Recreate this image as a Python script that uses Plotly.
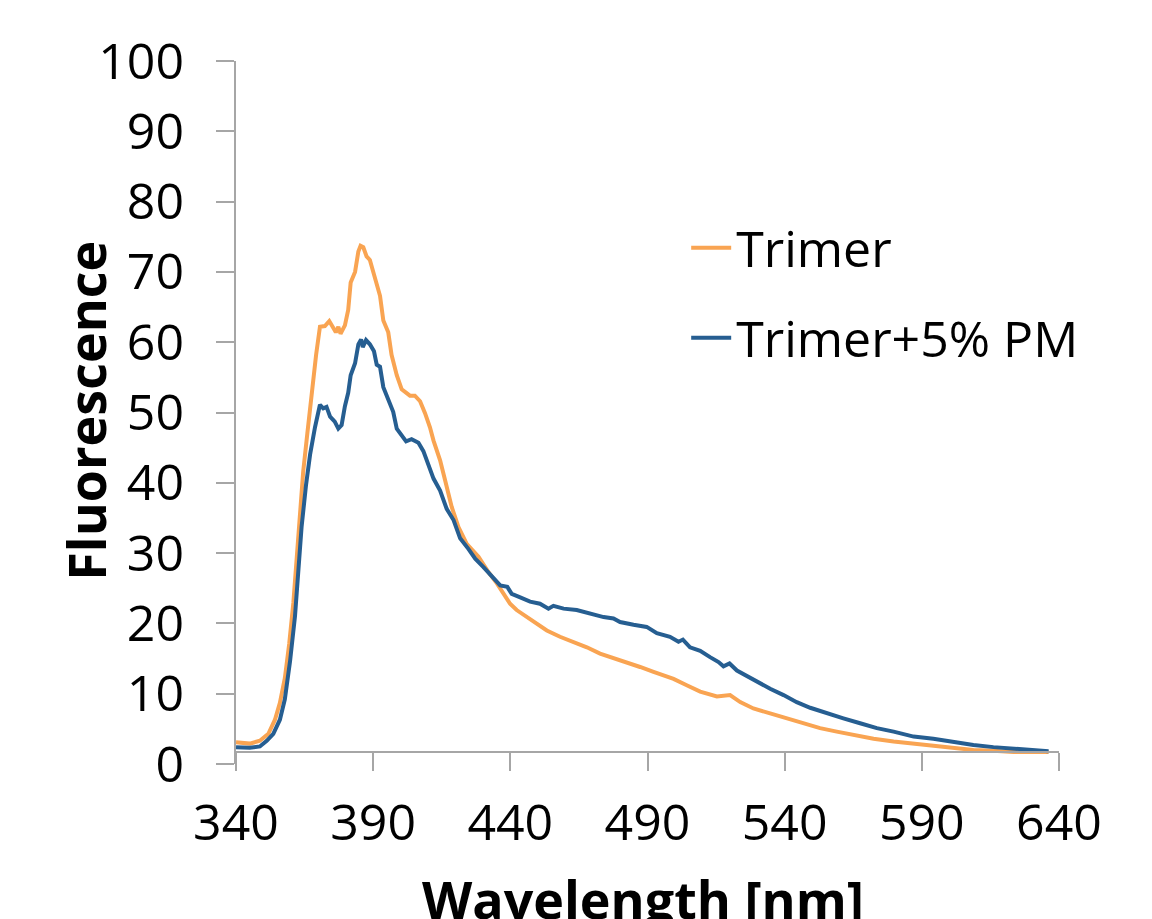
import plotly.graph_objects as go

# ---- data ----
trimer_wl = [340, 345, 348.7, 351.8, 354.2, 356, 357.8, 359.4, 360.9, 362.1, 363.3, 364.5, 366, 367.6,
             369.2, 370.6, 372.4, 374, 375.5, 376.4, 377.3, 378.1, 379.7, 380.9, 381.8, 383.4, 384.6,
             385.4, 386.4, 387.6, 388.8, 390.6, 392.5, 393.7, 395.5, 396.7, 398.6, 400.4, 402.2, 403.4,
             405.2, 407.1, 408.9, 410.7, 412, 414.4, 416.2, 418.6, 421.1, 424.1, 428.4, 432, 435.1,
             437.5, 439.9, 442.3, 446, 449, 453.3, 458.1, 463, 467.9, 472.7, 477.6, 482.4, 487.3,
             492.2, 497.6, 499.5, 504.3, 509.2, 515.3, 520.1, 523.8, 528.6, 534.7, 540.8, 546.9,
             552.9, 559, 565.1, 572.4, 579.7, 587, 594.2, 601.5, 608.8, 616.1, 623.4, 636.2]
trimer_fl = [3.1, 2.9, 3.3, 4.3, 6.3, 8.7, 12.2, 17.1, 22.9, 28.8, 35.2, 41.6, 47, 53.3,
             58.2, 62.2, 62.3, 63, 62.1, 61.4, 62.2, 61.2, 62.4, 64.6, 68.5, 70, 72.9,
             73.7, 73.5, 72.2, 71.7, 69.3, 66.6, 63.1, 61.4, 58.2, 55.3, 53.3, 52.8, 52.4,
             52.4, 51.6, 49.9, 47.9, 46, 43.2, 40.4, 36.6, 33.7, 31.3, 29.5, 27.3, 25.7,
             24.2, 22.8, 21.9, 20.9, 20, 19.0, 18.1, 17.4, 16.6, 15.7, 15.1, 14.5, 13.8,
             13.1, 12.3, 12.1, 11.2, 10.3, 9.6, 9.8, 8.8, 7.9, 7.2, 6.5, 5.7,
             5.1, 4.6, 4.1, 3.6, 3.2, 2.9, 2.7, 2.3, 2.0, 1.9, 1.7, 1.7]

pm_wl = [340, 345, 348.7, 351.2, 353.6, 356, 357.8, 359.7, 361.5, 362.7, 363.9, 365.5, 367, 368.8,
         370.6, 371.8, 373, 374.3, 376, 377.3, 378.5, 379.7, 380.9, 381.8, 383.4, 384.6, 385.6,
         386.2, 387.4, 388.8, 390.3, 391.3, 392.5, 393.7, 395.5, 397.3, 398.6, 400.4, 402, 404,
         406.5, 408.3, 410.7, 412, 414.4, 416.8, 419.3, 421.7, 424.7, 427.2, 430.2, 433.2, 436.3,
         438.9, 440.5, 443.6, 447.2, 450.8, 453.9, 455.7, 459.4, 464.2, 469.1, 474, 477.6, 480,
         484.9, 489.7, 493.4, 498.2, 501.3, 502.9, 505.5, 509.2, 512.8, 515.9, 517.7, 519.9,
         522.6, 526.2, 529.8, 534.7, 539.6, 544.4, 549.3, 555.4, 561.4, 567.5, 573.6, 579.7,
         587, 594.2, 601.5, 608.8, 616.1, 623.4, 629.5, 636.2]
pm_fl = [2.4, 2.3, 2.5, 3.3, 4.3, 6.3, 9.2, 14.6, 21, 26.9, 33.7, 39.6, 44, 47.9,
         51.1, 50.6, 50.8, 49.4, 48.7, 47.7, 48.2, 50.9, 52.8, 55.3, 57, 59.7, 60.4,
         59.3, 60.3, 59.7, 58.7, 56.8, 56.5, 53.6, 51.9, 50.1, 47.7, 46.7, 45.9, 46.2,
         45.7, 44.5, 41.8, 40.6, 38.9, 36.3, 34.7, 32.1, 30.6, 29.2, 28, 26.8, 25.4,
         25.2, 24.2, 23.7, 23.1, 22.8, 22.1, 22.5, 22.1, 21.9, 21.4, 20.9, 20.7, 20.2,
         19.8, 19.5, 18.6, 18.1, 17.4, 17.7, 16.6, 16.1, 15.2, 14.5, 13.9, 14.3,
         13.3, 12.5, 11.7, 10.7, 9.8, 8.8, 8.0, 7.2, 6.5, 5.8, 5.1, 4.6,
         3.9, 3.6, 3.1, 2.7, 2.4, 2.2, 1.9, 1.8]

x_ticks = [340, 390, 440, 490, 540, 590, 640]
y_ticks = [0, 10, 20, 30, 40, 50, 60, 70, 80, 90, 100]

FONT = "Open Sans"
AXIS_COLOR = "#A6A6A6"

fig = go.Figure()
fig.add_trace(go.Scatter(x=trimer_wl, y=trimer_fl, mode="lines", name="Trimer",
                         legendgroup="a",
                         line=dict(color="#F9A452", width=4)))
fig.add_trace(go.Scatter(x=pm_wl, y=pm_fl, mode="lines", name="Trimer+5% PM",
                         legendgroup="b",
                         line=dict(color="#265E91", width=4)))

fig.update_layout(
    width=1152, height=919, autosize=False,
    margin=dict(l=236, r=93, t=61, b=155),
    paper_bgcolor="white", plot_bgcolor="white",
    font=dict(family=FONT, size=50, color="black"),
    showlegend=True,
    legend=dict(x=0.547, y=0.79, xanchor="left", yanchor="top",
                bgcolor="rgba(0,0,0,0)", font=dict(size=50, family=FONT),
                tracegroupgap=22, itemwidth=40),
    xaxis=dict(range=[340, 640], tickvals=x_ticks, ticktext=[str(v) for v in x_ticks],
               showgrid=False, zeroline=False, showline=True, linecolor=AXIS_COLOR, linewidth=2,
               ticks="outside", ticklen=18, tickwidth=2, tickcolor=AXIS_COLOR,
               anchor="free", position=0.0174, ticklabelstandoff=9,
               tickfont=dict(size=50, family=FONT, color="black")),
    yaxis=dict(range=[0, 100], tickvals=y_ticks, ticktext=[str(v) for v in y_ticks],
               showgrid=False, zeroline=False, showline=True, linecolor=AXIS_COLOR, linewidth=2,
               ticks="outside", ticklen=18, tickwidth=2, tickcolor=AXIS_COLOR,
               ticklabelstandoff=22,
               tickfont=dict(size=50, family=FONT, color="black")),
    annotations=[
        dict(text="<b>Wavelength [nm]</b>", xref="paper", yref="paper", x=0.494, y=-0.192,
             xanchor="center", yanchor="middle", showarrow=False,
             font=dict(size=52, family=FONT, color="black")),
        dict(text="<b>Fluorescence</b>", xref="paper", yref="paper", x=-0.183, y=0.503,
             xanchor="center", yanchor="middle", showarrow=False, textangle=-90,
             font=dict(size=52, family=FONT, color="black")),
    ],
)

fig.write_html("out.html")
